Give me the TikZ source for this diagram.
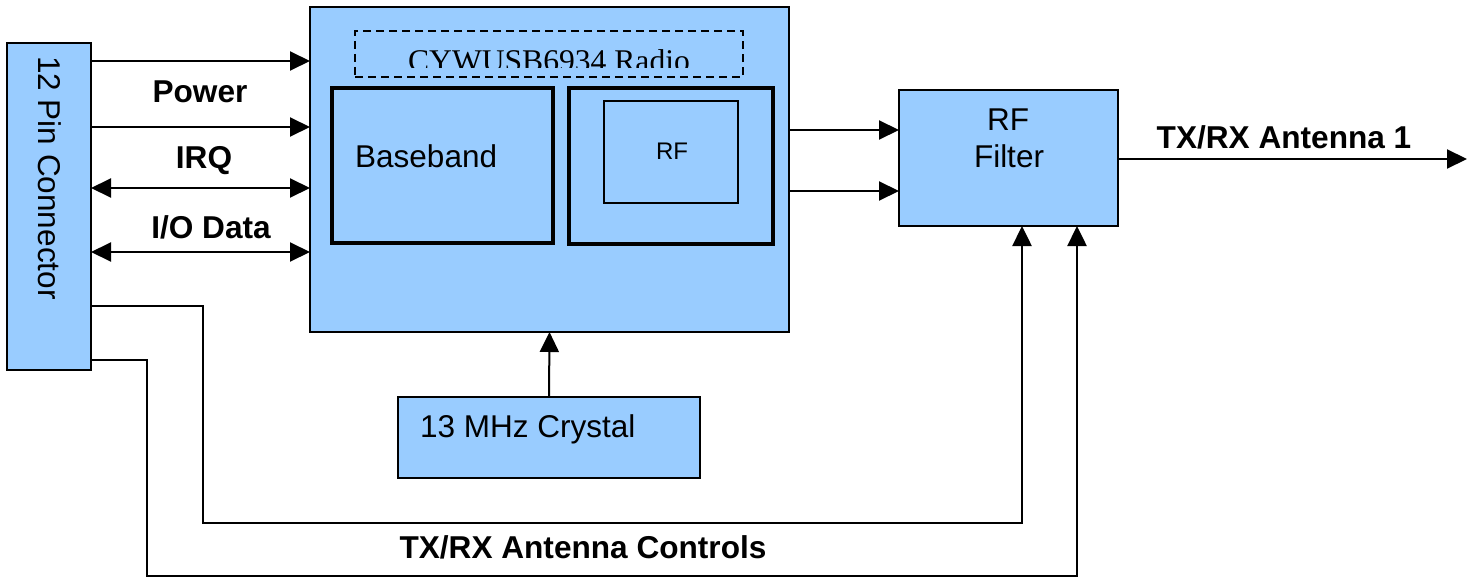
\documentclass[tikz,border=0pt]{standalone}
\usepackage{fontspec}
\setmainfont{Liberation Sans}
\newfontfamily\tnr{Liberation Serif}
\usetikzlibrary{arrows.meta}
\definecolor{boxblue}{HTML}{99CCFF}
\tikzset{
  blk/.style={draw=black, fill=boxblue, line width=2pt, inner sep=0pt, outer sep=0pt},
  sub/.style={draw=black, line width=3.5pt, inner sep=0pt, outer sep=0pt},
  wire/.style={line width=2pt},
  tip/.style={-{Triangle[length=20pt,width=19pt]}},
  dtip/.style={{Triangle[length=20pt,width=19pt]}-{Triangle[length=20pt,width=19pt]}},
  lbl/.style={font=\fontsize{31.6}{36}\selectfont\bfseries, inner sep=0pt, anchor=base},
  txt/.style={font=\fontsize{31.5}{36}\selectfont, inner sep=0pt}
}
\begin{document}
\begin{tikzpicture}[x=1pt,y=-1pt]
\useasboundingbox (0,0) rectangle (1477,578);
% blocks
\node[blk, minimum width=84, minimum height=327] (conn) at (49,206.5) {};
\node[blk, minimum width=479, minimum height=325] (radio) at (549.5,169.5) {};
\node[draw=black, dashed, dash pattern=on 8pt off 5pt, line width=2pt, minimum width=388, minimum height=46, inner sep=0pt] (dbox) at (549,54) {};
\node[sub, minimum width=221, minimum height=155] (bb) at (442.5,165.5) {};
\node[sub, minimum width=204, minimum height=156] (rfo) at (671,166) {};
\node[draw=black, line width=2.5pt, minimum width=134, minimum height=102, inner sep=0pt] (rfi) at (671,152) {};
\node[blk, minimum width=219, minimum height=136] (filt) at (1008.5,158) {};
\node[blk, minimum width=302, minimum height=81] (xtal) at (549,437.5) {};
% texts
\node[txt, rotate=-90, anchor=base west] (conntxt) at (38,56) {12 Pin Connector};
\begin{scope}
\clip (355,31) rectangle (743,68);
\node[font=\fontsize{31.6}{36}\tnr\selectfont, inner sep=0pt, anchor=base] (radiotxt) at (549,71) {CYWUSB6934 Radio};
\end{scope}
\node[txt, anchor=base west] (bbtxt) at (355,167) {Baseband};
\node[font=\fontsize{24}{28}\selectfont, inner sep=0pt, anchor=base] (rftxt) at (672,159) {RF};
\node[txt, anchor=base] (filt1) at (1008,130) {RF};
\node[txt, anchor=base] (filt2) at (1009,167) {Filter};
\node[txt, anchor=base west] (xtaltxt) at (420,437) {13 MHz Crystal};
\node[lbl] (pw) at (200,102) {Power};
\node[lbl] (irq) at (204,168) {IRQ};
\node[lbl] (io) at (211,238) {I/O Data};
\node[lbl] (ant1) at (1284,148) {TX/RX Antenna 1};
\node[lbl] (antc) at (583,558) {TX/RX Antenna Controls};
% helper coordinates
\coordinate (y1) at (0,61);
\coordinate (y2) at (0,127);
\coordinate (y3) at (0,188);
\coordinate (y4) at (0,252);
\coordinate (y5) at (0,130);
\coordinate (y6) at (0,191);
\coordinate (y7) at (0,159);
\coordinate (antend) at (1467,159);
\coordinate (p1) at (203,306);
\coordinate (p1b) at (203,523);
\coordinate (p2) at (147,360);
\coordinate (p2b) at (147,576);
\coordinate (t1) at (1022,0);
\coordinate (t2) at (1077,0);
% connectors
\draw[wire, tip] (conn.east |- y1) -- (radio.west |- y1);
\draw[wire, tip] (conn.east |- y2) -- (radio.west |- y2);
\draw[wire, dtip] (conn.east |- y3) -- (radio.west |- y3);
\draw[wire, dtip] (conn.east |- y4) -- (radio.west |- y4);
\draw[wire, tip] (radio.east |- y5) -- (filt.west |- y5);
\draw[wire, tip] (radio.east |- y6) -- (filt.west |- y6);
\draw[wire, tip] (filt.east |- y7) -- (antend);
\draw[wire, tip] (xtal.north) -- (radio.south);
\draw[line width=2.5pt, tip] (conn.east |- p1) -- (p1) -- (p1b) -| (filt.south -| t1);
\draw[line width=2.5pt, tip] (conn.east |- p2) -- (p2) -- (p2b) -| (filt.south -| t2);
\end{tikzpicture}
\end{document}
